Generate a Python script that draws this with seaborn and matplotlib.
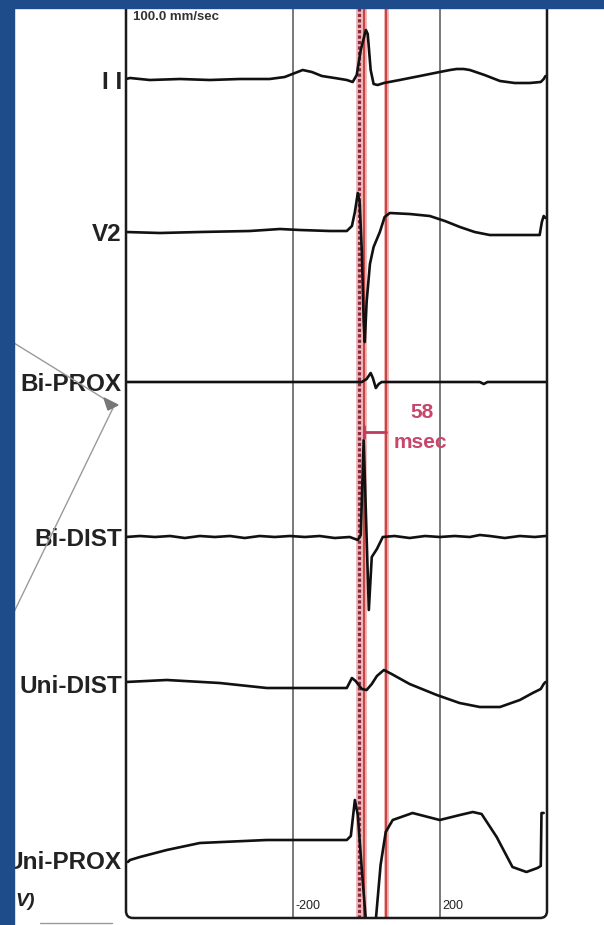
import numpy as np
import pandas as pd
import matplotlib
matplotlib.use("Agg")
import matplotlib.pyplot as plt
import seaborn as sns
from matplotlib.patches import Rectangle, FancyBboxPatch, Polygon
from matplotlib.lines import Line2D
from matplotlib.transforms import IdentityTransform, ScaledTranslation

# ---- channel names (top to bottom) ----
channels = ["I I", "V2", "Bi-PROX", "Bi-DIST", "Uni-DIST", "Uni-PROX"]

# ---- traces: time (ms) and deflection from baseline (display units) ----
t_II = [-654, -643, -589, -507, -426, -344, -263, -222, -194, -173, -148, -121, -86, -53, -37, -26,
        -15, -1, 4, 12, 20, 31, 48, 91, 146, 200, 228, 246, 265, 282, 322, 364, 404, 445, 475, 483, 488]
a_II = [1, 2, 0, 1, 0, 1, 1, 3, 7, 10, 8, 4, 2, 0, -2, 5,
        30, 50, 46, 10, -4, -5, -3, 0, 4, 8, 10, 11, 11, 10, 5, -1, -3, -3, -2, 1, 4]

t_V2 = [-654, -562, -453, -317, -235, -181, -99, -53, -39, -31, -23, -18, -12, -7, -4, 1, 10, 20,
        37, 50, 64, 118, 173, 214, 255, 295, 336, 418, 472, 478, 483, 488]
a_V2 = [0, -1, 0, 1, 3, 2, 1, 1, 6, 20, 39, 30, -20, -90, -110, -70, -32, -15,
        0, 15, 19, 18, 16, 11, 5, 0, -3, -3, -3, 10, 16, 14]

t_BP = [-654, -453, -181, -12, 1, 12, 18, 26, 34, 42, 309, 320, 330, 488]
a_BP = [0, 0, 0, 0, 3, 9, 4, -6, -2, 0, 0, -2, 0, 0]

t_BD = [-654, -616, -575, -534, -494, -453, -412, -371, -331, -290, -249, -208, -167, -127, -86, -45,
        -23, -15, -7, 7, 15, 29, 45, 77, 118, 160, 200, 241, 282, 309, 336, 377, 418, 459, 488]
a_BD = [0, 1, 0, 1, -1, 1, 0, 1, -1, 1, 0, 1, 0, 1, -1, 0,
        -3, 2, 97, -73, -20, -12, 0, 1, -1, 1, 0, 1, 0, 2, 1, -1, 1, 0, 1]

t_UD = [-654, -543, -399, -271, -181, -53, -39, -29, -12, 1, 15, 29, 48, 69, 118, 192, 254, 309,
        364, 418, 453, 475, 483, 488]
a_UD = [2, 4, 1, -4, -4, -4, 6, 3, -5, -6, 0, 8, 14, 10, 0, -11, -19, -23,
        -23, -16, -9, -5, 0, 2]

t_UP = [-649, -643, -616, -543, -453, -271, -181, -53, -42, -31, -23, -12, 1, 12, 26, 39, 53, 72,
        126, 200, 255, 290, 314, 355, 398, 436, 466, 475, 477, 483]
a_UP = [-2, 0, 3, 10, 17, 20, 20, 20, 24, 60, 45, -10, -70, -85, -60, -5, 28, 40,
        47, 40, 45, 48, 46, 23, -7, -12, -8, -6, 47, 47]

times = [t_II, t_V2, t_BP, t_BD, t_UD, t_UP]
amps = [a_II, a_V2, a_BP, a_BD, a_UD, a_UP]

# ---- timing markers (ms) ----
onset_dashed = -19
onset_solid = -5
interval_ms = 58
grid_ticks = [-200, 200]

# layout: vertical position of each channel baseline
levels = [-80, -232, -382, -537, -684, -860]

rows = []
for name, lev, ts, ys in zip(channels, levels, times, amps):
    for t, y in zip(ts, ys):
        rows.append({"channel": name, "t": t, "y": lev + y})
df = pd.DataFrame(rows)

sns.set_style("white")
plt.rcParams["font.family"] = ["Liberation Sans", "DejaVu Sans"]

W, H = 604, 925
fig = plt.figure(figsize=(W / 100, H / 100), dpi=100)
fig.patch.set_facecolor("white")

ax_l, ax_r, ax_t, ax_b = 126, 547, 5, 918
ax = fig.add_axes([ax_l / W, (H - ax_b) / H, (ax_r - ax_l) / W, (ax_b - ax_t) / H])
ax.set_facecolor("white")

sns.lineplot(data=df, x="t", y="y", units="channel", estimator=None, sort=False,
             color="#111111", lw=1.9, ax=ax, legend=False, zorder=6)

ax.set_xlim(-654, 492)
ax.set_ylim(-918, -5)
for s in ax.spines.values():
    s.set_visible(False)

# vertical reference grid
ax.set_xticks(grid_ticks)
ax.set_xticklabels([str(v) for v in grid_ticks], fontsize=9, color="#222222", ha="left")
ax.tick_params(axis="x", length=0, pad=-13, direction="in")
ax.grid(True, axis="x", color="#555555", lw=1.1)
ax.grid(False, axis="y")
for lbl in ax.get_xticklabels():
    lbl.set_transform(lbl.get_transform() + ScaledTranslation(2 / 72, 0, fig.dpi_scale_trans))

# channel labels
ax.set_yticks(levels)
ax.set_yticklabels(channels, fontsize=17.5, fontweight="bold", color="#222222")
ax.tick_params(axis="y", length=0, pad=3)
ax.set_xlabel("")
ax.set_ylabel("")

# timing markers
ax.axvline(onset_dashed, color="#ebb8bc", lw=4.2, zorder=4)
ax.axvline(onset_dashed, color="#8a2a3c", lw=2.3, ls=(0, (1.0, 0.7)), zorder=5)
for t in [onset_solid, onset_solid + interval_ms]:
    ax.axvline(t, color="#eeb0b0", lw=3.4, zorder=4)
    ax.axvline(t, color="#c94545", lw=1.5, zorder=5)

# interval bracket and label
yb = -432
ax.plot([onset_solid, onset_solid + interval_ms], [yb, yb], color="#c03a60", lw=2, zorder=7)
ax.plot([onset_solid, onset_solid], [yb - 6, yb + 6], color="#c03a60", lw=2, zorder=7)
ax.text(onset_solid + interval_ms + 98, -413, f"{interval_ms}", color="#c8456c", fontsize=15,
        fontweight="bold", ha="center", va="center", zorder=7)
ax.text(onset_solid + interval_ms + 94, -443, "msec", color="#c8456c", fontsize=15,
        fontweight="bold", ha="center", va="center", zorder=7)

# sweep speed
ax.text(-636, -17, "100.0 mm/sec", fontsize=9.5, fontweight="bold", color="#333333",
        ha="left", va="center", zorder=7)

# frame with rounded lower corners (display pixel coords)
box = FancyBboxPatch((ax_l, H - ax_b), ax_r - ax_l, ax_b + 20,
                     boxstyle="round,pad=0,rounding_size=7",
                     transform=IdentityTransform(), fill=False, ec="#1a1a1a", lw=1.8, zorder=8)
fig.add_artist(box)

# amplitude unit label, lower left
fig.text(15 / W, 1 - 901 / H, "V)", fontsize=14, fontweight="bold", fontstyle="italic",
         color="#222222", ha="left", va="center")

# grey pointer lines on the left
def px(x, y):
    return (x / W, 1 - y / H)

for (x0, y0), (x1, y1) in [((14, 343), (111, 403)), ((113, 408), (14, 612)), ((40, 923), (112, 923))]:
    fig.add_artist(Line2D([px(x0, y0)[0], px(x1, y1)[0]], [px(x0, y0)[1], px(x1, y1)[1]],
                          color="#9a9a9a", lw=1.0, zorder=2))
fig.add_artist(Polygon([px(104, 398), px(118, 405), px(108, 410)], closed=True,
                       color="#777777", zorder=3))

# blue slide border
blue = "#1e4c8a"
fig.add_artist(Rectangle((0, 1 - 8 / H), 1, 8 / H, transform=fig.transFigure, color=blue, zorder=20))
fig.add_artist(Rectangle((0, 0), 14 / W, 1, transform=fig.transFigure, color=blue, zorder=20))

fig.savefig("out.png", dpi=100)
